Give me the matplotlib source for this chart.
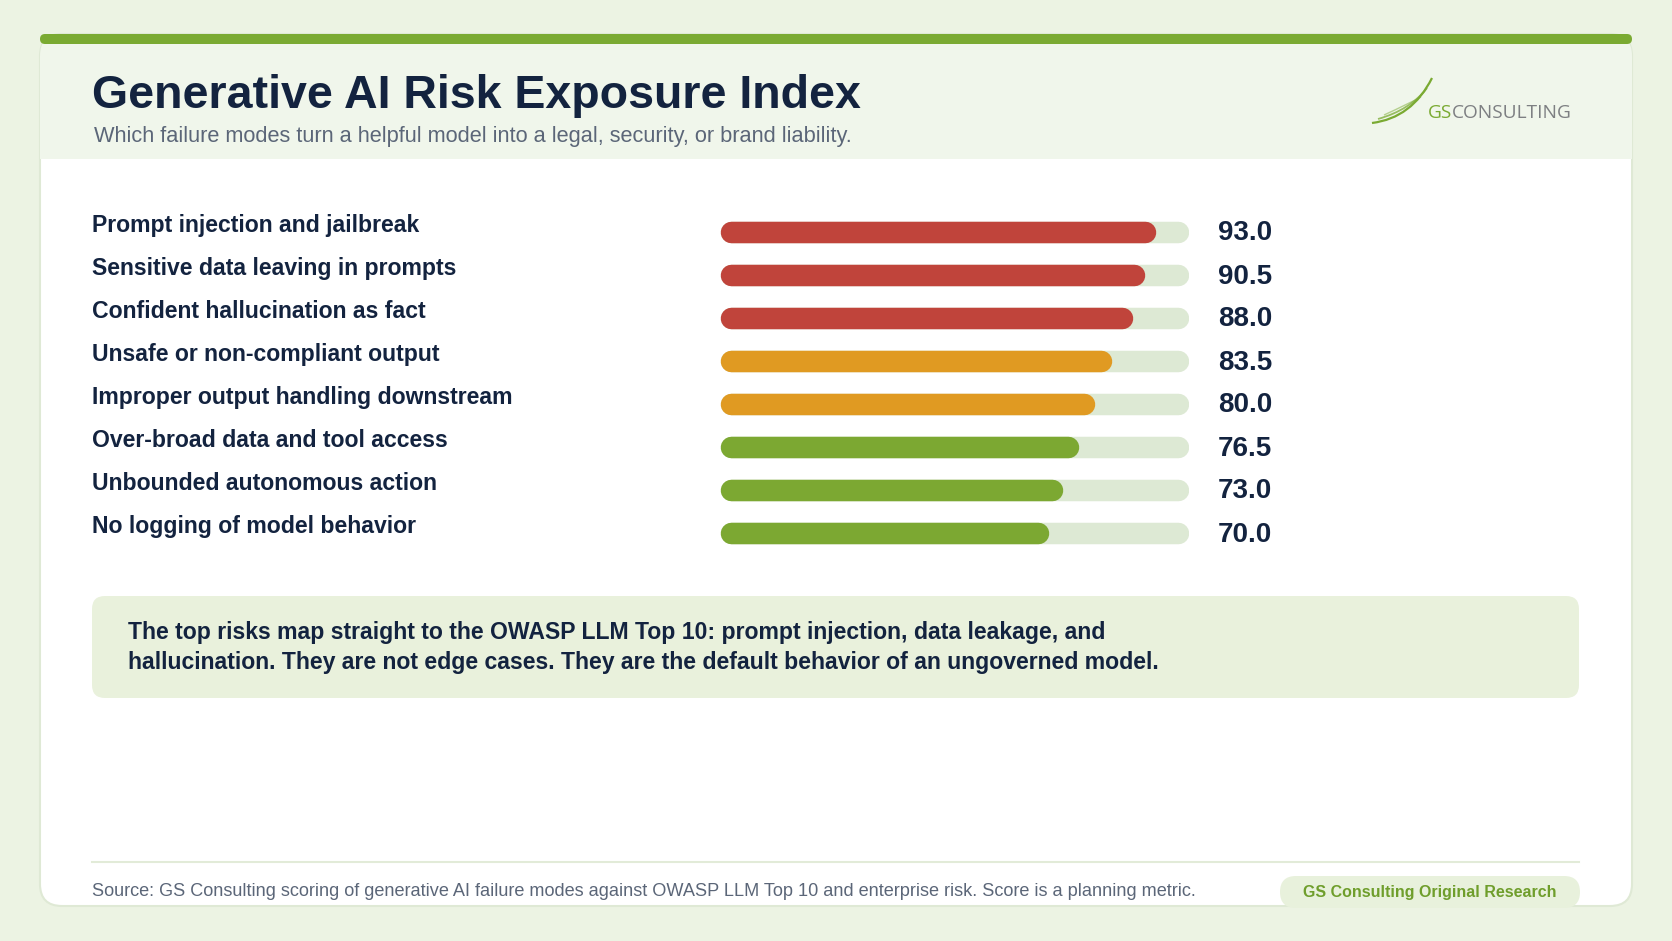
import matplotlib
matplotlib.use("Agg")
import matplotlib.pyplot as plt
from matplotlib.patches import FancyBboxPatch, Rectangle
from matplotlib.path import Path
from matplotlib.patches import PathPatch
import matplotlib.transforms as mtransforms

# ---------------- data ----------------
categories = [
    "Prompt injection and jailbreak",
    "Sensitive data leaving in prompts",
    "Confident hallucination as fact",
    "Unsafe or non-compliant output",
    "Improper output handling downstream",
    "Over-broad data and tool access",
    "Unbounded autonomous action",
    "No logging of model behavior",
]
scores = [93.0, 90.5, 88.0, 83.5, 80.0, 76.5, 73.0, 70.0]
tiers = ["high", "high", "high", "mid", "mid", "low", "low", "low"]
scale_max = 100

title = "Generative AI Risk Exposure Index"
subtitle = "Which failure modes turn a helpful model into a legal, security, or brand liability."
callout_lines = [
    "The top risks map straight to the OWASP LLM Top 10: prompt injection, data leakage, and",
    "hallucination. They are not edge cases. They are the default behavior of an ungoverned model.",
]
source = ("Source: GS Consulting scoring of generative AI failure modes against OWASP LLM Top 10 "
          "and enterprise risk. Score is a planning metric.")
badge = "GS Consulting Original Research"

# ---------------- style ----------------
FONT = "Liberation Sans"
NAVY = "#13233f"
GRAY = "#5b6678"
OUTER = "#ecf3e3"
HEADER = "#f0f6eb"
GREEN = "#7aaa32"
TRACK = "#dde9d4"
CALLOUT = "#e9f1dc"
tier_colors = {"high": "#c0443b", "mid": "#e09a22", "low": "#7ca832"}

W, H = 1672, 941
fig = plt.figure(figsize=(W / 100, H / 100), dpi=100)
fig.patch.set_facecolor(OUTER)

bg = fig.add_axes([0, 0, 1, 1])
bg.set_xlim(0, W)
bg.set_ylim(H, 0)
bg.axis("off")
bg.set_zorder(0)

# card
card = FancyBboxPatch((40, 34), 1592, 872, boxstyle="round,pad=0,rounding_size=22",
                      facecolor="white", edgecolor="#dfe9d5", linewidth=1.5)
bg.add_patch(card)
hdr = Rectangle((40, 34), 1592, 125, facecolor=HEADER, edgecolor="none")
bg.add_patch(hdr)
hdr.set_clip_path(card)
topbar = FancyBboxPatch((40, 34), 1592, 10, boxstyle="round,pad=0,rounding_size=5",
                        facecolor=GREEN, edgecolor="none")
bg.add_patch(topbar)

# title & subtitle
bg.text(92, 108, title, fontsize=33.5, fontweight="bold", color=NAVY, family=FONT, va="baseline")
bg.text(94, 142, subtitle, fontsize=15.7, color=GRAY, family=FONT, va="baseline")

# logo
for (sx, sy, cx, cy, ex, ey, lw, a) in [
    (1372, 123, 1412, 118, 1432, 78, 1.6, 1.0),
    (1378, 119, 1410, 110, 1427, 88, 1.3, 0.75),
    (1384, 115, 1408, 104, 1421, 97, 1.0, 0.5),
]:
    p = Path([(sx, sy), (cx, cy), (ex, ey)], [Path.MOVETO, Path.CURVE3, Path.CURVE3])
    bg.add_patch(PathPatch(p, facecolor="none", edgecolor=GREEN, lw=lw, alpha=a))
logo_fs = 13.8
gs = bg.text(1428, 113, "GS", fontsize=logo_fs, color=GREEN, family="Open Sans",
             va="center", ha="left")
fig.canvas.draw()
ext = gs.get_window_extent(renderer=fig.canvas.get_renderer())
gs_w = ext.width
bg.text(1428 + gs_w, 113, "CONSULTING", fontsize=logo_fs, color="#7d7f82", family="Open Sans",
        va="center", ha="left")

# ---------------- bars ----------------
x0_px, x1_px = 720, 1189
row0, step = 231.5, 43.0
top_px = row0 - step / 2
bot_px = row0 + step * (len(categories) - 0.5)
ax = fig.add_axes([x0_px / W, 1 - bot_px / H, (x1_px - x0_px) / W, (bot_px - top_px) / H])
ax.set_xlim(0, scale_max)
ax.set_ylim(len(categories) - 0.5, -0.5)
ax.axis("off")
ax.patch.set_alpha(0)
ax.set_zorder(2)

bar_px = 21.5
lw_pt = bar_px * 0.72
r = (bar_px / 2) / (x1_px - x0_px) * scale_max

for i, (cat, v, t) in enumerate(zip(categories, scores, tiers)):
    ax.plot([r, scale_max - r], [i, i], color=TRACK, lw=lw_pt, solid_capstyle="round", zorder=1)
    ax.plot([r, v - r], [i, i], color=tier_colors[t], lw=lw_pt, solid_capstyle="round", zorder=2)

trans_lbl = mtransforms.blended_transform_factory(bg.transData, ax.transData)
for i, (cat, v) in enumerate(zip(categories, scores)):
    fig.text(92, i - 6 / step, cat, transform=trans_lbl, fontsize=16.6, fontweight="bold",
             color=NAVY, family=FONT, va="center", ha="left")
    fig.text(1218, i + 2 / step, f"{v:.1f}", transform=trans_lbl, fontsize=20,
             fontweight="bold", color=NAVY, family=FONT, va="center", ha="left")

# ---------------- callout ----------------
bg.add_patch(FancyBboxPatch((92, 596), 1487, 102, boxstyle="round,pad=0,rounding_size=13",
                            facecolor=CALLOUT, edgecolor="none"))
for k, line in enumerate(callout_lines):
    bg.text(128, 633 + 30 * k, line, fontsize=16.55, fontweight="bold", color=NAVY,
            family=FONT, va="center", ha="left")

# ---------------- footer ----------------
bg.plot([92, 1579], [862, 862], color="#e2ebd8", lw=1.5)
bg.text(92, 891, source, fontsize=13.1, color=GRAY, family=FONT, va="center", ha="left")
bg.add_patch(FancyBboxPatch((1280, 876), 300, 32, boxstyle="round,pad=0,rounding_size=16",
                            facecolor="#e8f1dc", edgecolor="none", zorder=3))
bg.text(1430, 892, badge, fontsize=11.5, fontweight="bold", color="#6f9e2c", family=FONT,
        va="center", ha="center", zorder=4)

fig.savefig("out.png", dpi=100, facecolor=OUTER)
